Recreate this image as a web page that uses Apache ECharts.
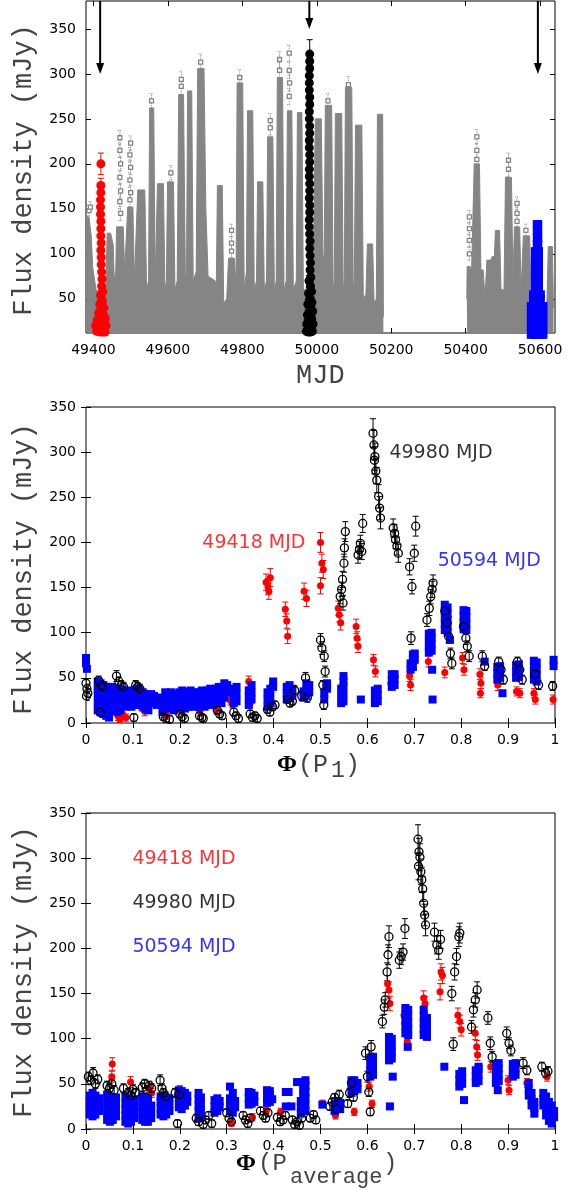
<!DOCTYPE html>
<html lang="en">
<head>
<meta charset="utf-8" />
<title>Flux density vs MJD and orbital phase</title>
<script src="https://cdn.jsdelivr.net/npm/echarts@6/dist/echarts.min.js"></script>
<style>
  html, body { margin: 0; padding: 0; background: #fff; }
  #chart { width: 585px; height: 1188px; }
</style>
</head>
<body>
<div id="chart"></div>
<script>
// ---------- tick values ----------
var mjdTicks = [49400, 49600, 49800, 50000, 50200, 50400, 50600];
var fluxTicksTop = [50, 100, 150, 200, 250, 300, 350];
var phaseTicks = [0, 0.1, 0.2, 0.3, 0.4, 0.5, 0.6, 0.7, 0.8, 0.9, 1];
var fluxTicks = [0, 50, 100, 150, 200, 250, 300, 350];

// ---------- top panel: full light curve (MJD, flux) ----------
// upper envelope of the dense grey cloud, two observing runs
var grayEnvA = [[49381,141],[49388,141],[49394,120],[49398,85],[49407,60],[49420,55],[49433,60],[49437,123],[49446,123],[49453,110],[49456,70],[49460,80],[49462,130],[49480,130],[49484,80],[49489,80],[49492,152],[49506,152],[49510,70],[49515,70],[49519,171],[49538,171],[49543,60],[49548,70],[49551,262],[49562,262],[49566,70],[49569,70],[49572,178],[49588,178],[49592,60],[49596,70],[49599,180],[49615,180],[49619,60],[49625,70],[49629,277],[49642,277],[49647,70],[49650,80],[49653,281],[49664,281],[49668,70],[49676,80],[49680,306],[49697,306],[49702,150],[49708,75],[49727,70],[49730,60],[49733,176],[49746,176],[49750,45],[49758,50],[49763,95],[49779,95],[49783,60],[49786,290],[49801,290],[49805,60],[49811,80],[49814,259],[49828,259],[49832,60],[49838,70],[49841,180],[49855,180],[49859,60],[49865,70],[49868,230],[49882,230],[49886,60],[49891,70],[49894,296],[49908,296],[49912,60],[49918,70],[49921,259],[49933,259],[49937,60],[49945,70],[49948,257],[49960,257],[49964,60],[49990,60],[49996,250],[50012,250],[50017,90],[50020,100],[50023,265],[50040,265],[50044,60],[50047,70],[50050,256],[50067,256],[50071,60],[50074,70],[50077,285],[50094,285],[50098,60],[50101,70],[50104,243],[50121,243],[50125,50],[50132,55],[50136,111],[50150,111],[50154,45],[50160,50],[50163,255],[50177,255],[50179,30]];
var grayEnvB = [[50403,50],[50404,86],[50412,86],[50416,82],[50420,82],[50423,200],[50437,200],[50441,82],[50447,82],[50452,50],[50457,93],[50468,93],[50471,97],[50477,97],[50480,126],[50491,126],[50495,60],[50503,60],[50507,185],[50523,185],[50527,70],[50531,130],[50545,130],[50549,60],[50553,60],[50555,120],[50572,120],[50576,40],[50618,40],[50622,108],[50633,108],[50636,40]];
// sparse grey points above the dense part [mjd, flux, err]
var graySparse = [[49388,148,6],[49392,152,6],[49471,229,8],[49471,215,8],[49473,200,8],[49471,185,8],[49473,170,8],[49471,158,8],[49473,145,8],[49500,223,8],[49498,210,8],[49500,196,8],[49498,182,8],[49500,168,8],[49498,160,8],[49556,270,8],[49608,190,8],[49636,294,9],[49636,286,9],[49688,313,9],[49771,126,7],[49771,112,7],[49771,103,7],[49793,296,9],[49875,248,8],[49875,240,8],[49900,316,9],[49900,304,9],[49926,323,9],[49926,304,9],[49927,290,9],[49926,275,9],[50030,270,8],[50085,288,9],[50410,141,7],[50410,128,7],[50410,115,7],[50410,100,7],[50430,230,8],[50430,215,8],[50430,205,8],[50515,204,8],[50515,194,8],[50538,156,7],[50538,145,7],[50538,136,7],[50562,126,7]];
var redTop = [[49420,200,12],[49420,176,8],[49420,168,8],[49419,160,8],[49419,152,8],[49419,144,7],[49420,136,7],[49420,128,7],[49420,120,7],[49421,112,7],[49420,104,7],[49421,96,6],[49421,88,6],[49422,80,6],[49423,72,6],[49422,64,6],[49425,58,5],[49419,54,5],[49424,48,5],[49417,44,5],[49428,40,5],[49421,38,5],[49414,34,5],[49426,32,5],[49432,28,5],[49410,26,5],[49419,26,5],[49406,20,5],[49413,18,5],[49421,18,5],[49428,20,5],[49434,20,5],[49409,14,5],[49417,13,5],[49425,13,5],[49431,13,5]];
var blackTop = [[49981,322,16],[49981,314,10],[49981,306,10],[49980,298,10],[49980,290,10],[49980,282,9],[49981,274,9],[49981,266,9],[49980,258,9],[49980,250,9],[49981,242,9],[49981,234,8],[49980,226,8],[49980,218,8],[49981,210,8],[49981,202,8],[49980,194,8],[49980,186,8],[49981,178,8],[49981,170,8],[49980,162,7],[49981,154,7],[49981,146,7],[49980,138,7],[49980,130,7],[49981,122,7],[49982,114,7],[49981,106,7],[49982,98,6],[49983,90,6],[49982,82,6],[49984,74,6],[49979,70,6],[49983,64,6],[49986,58,6],[49978,56,6],[49981,50,6],[49987,46,5],[49976,44,5],[49983,40,5],[49989,36,5],[49975,32,5],[49980,30,5],[49986,28,5],[49973,22,5],[49978,20,5],[49984,20,5],[49990,22,5],[49972,14,5],[49977,13,5],[49983,13,5],[49988,14,5]];
var blueTop = [[50591,133],[50595,133],[50591,125],[50595,125],[50591,117],[50595,117],[50591,111],[50595,111],[50586,103],[50592,103],[50597,103],[50586,95],[50592,95],[50597,95],[50586,87],[50592,87],[50597,87],[50586,79],[50592,79],[50597,79],[50586,71],[50592,71],[50597,71],[50586,63],[50592,63],[50597,63],[50581,55],[50588,55],[50595,55],[50602,55],[50581,50],[50588,50],[50595,50],[50602,50],[50575,42],[50582,42],[50589,42],[50596,42],[50603,42],[50609,42],[50575,34],[50582,34],[50589,34],[50596,34],[50603,34],[50609,34],[50575,26],[50582,26],[50589,26],[50596,26],[50603,26],[50609,26],[50575,18],[50582,18],[50589,18],[50596,18],[50603,18],[50609,18],[50575,10],[50582,10],[50589,10],[50596,10],[50603,10],[50609,10]];
// arrows marking the three cycles [mjd, tip flux]
var arrows = [[49418, 300], [49980, 350], [50594, 300]];

// ---------- middle panel: folded with P1 ----------
var redP1 = [[0.024,37,5],[0.027,30,5],[0.03,22,5],[0.033,18,5],[0.064,15,5],[0.068,8,5],[0.072,4,4],[0.078,10,5],[0.085,6,4],[0.12,18,5],[0.125,13,5],[0.165,11,5],[0.172,8,4],[0.2,15,5],[0.243,13,5],[0.278,15,5],[0.305,33,6],[0.308,25,5],[0.312,22,5],[0.347,46,6],[0.35,34,6],[0.35,22,5],[0.384,156,9],[0.388,151,9],[0.39,146,9],[0.393,161,10],[0.425,126,8],[0.428,113,8],[0.43,96,8],[0.465,146,9],[0.47,138,9],[0.5,200,11],[0.503,177,10],[0.506,170,10],[0.5,152,9],[0.538,127,8],[0.54,120,8],[0.543,111,8],[0.576,107,8],[0.578,94,7],[0.58,85,7],[0.613,70,6],[0.617,57,6],[0.65,44,6],[0.69,52,6],[0.692,42,6],[0.73,68,6],[0.765,56,6],[0.803,72,6],[0.806,59,6],[0.84,54,6],[0.842,44,6],[0.841,33,5],[0.878,42,6],[0.918,35,5],[0.925,33,5],[0.955,33,5],[0.958,26,5],[0.996,26,5]];
var blackP1 = [[0,44,5],[0.002,38,5],[0.004,33,5],[0.001,30,5],[0.027,47,5],[0.032,42,5],[0.036,40,5],[0.03,12,4],[0.065,52,6],[0.07,46,5],[0.075,42,5],[0.08,40,5],[0.102,6,4],[0.106,42,5],[0.11,40,5],[0.115,38,5],[0.165,7,4],[0.17,5,4],[0.178,4,4],[0.2,10,4],[0.205,7,4],[0.21,5,4],[0.242,8,4],[0.247,6,4],[0.25,5,4],[0.28,14,4],[0.285,10,4],[0.29,8,4],[0.315,12,4],[0.32,8,4],[0.325,5,4],[0.35,10,4],[0.355,6,4],[0.36,8,4],[0.365,5,4],[0.387,15,4],[0.392,12,4],[0.398,18,4],[0.403,20,4],[0.43,26,4],[0.435,22,4],[0.44,24,4],[0.445,36,5],[0.46,30,5],[0.468,50,6],[0.472,28,5],[0.5,92,7],[0.503,83,7],[0.508,74,6],[0.51,57,6],[0.505,42,5],[0.507,20,5],[0.542,140,8],[0.545,148,8],[0.547,159,9],[0.55,177,10],[0.551,194,10],[0.553,212,11],[0.548,133,8],[0.58,186,9],[0.583,192,9],[0.585,199,9],[0.59,221,10],[0.588,190,9],[0.612,321,16],[0.614,308,16],[0.616,295,15],[0.615,291,15],[0.618,279,14],[0.62,269,14],[0.624,251,13],[0.626,238,13],[0.628,227,12],[0.655,216,10],[0.658,210,10],[0.66,203,10],[0.663,196,10],[0.666,188,10],[0.69,173,9],[0.693,94,7],[0.695,151,8],[0.7,188,9],[0.703,218,11],[0.727,114,7],[0.732,127,8],[0.735,140,8],[0.738,148,9],[0.74,155,9],[0.765,124,8],[0.77,111,7],[0.773,96,7],[0.777,77,6],[0.78,66,6],[0.805,107,7],[0.81,94,7],[0.813,85,6],[0.817,74,6],[0.845,74,6],[0.85,63,5],[0.88,68,5],[0.885,59,5],[0.89,48,5],[0.92,68,5],[0.925,59,5],[0.93,48,5],[0.957,54,5],[0.965,42,5],[0.995,41,5]];
// blue squares, grouped as [phase, [flux values at that phase]]
var blueP1Cols = [[0,[72,66]],[0.002,[60]],[0.025,[46,38,30,22,14]],[0.031,[44,36,28,20,12]],[0.037,[42,34,26,18,10]],[0.043,[40,32,24,16,8]],[0.049,[38,30,22,14,6]],[0.055,[40,32,24,16]],[0.061,[38,30,22,14]],[0.067,[36,28,20,12]],[0.073,[38,30,22,14]],[0.079,[36,28,20]],[0.085,[34,26,18]],[0.091,[36,28,20]],[0.097,[34,26,18]],[0.103,[36,28,20]],[0.109,[38,30,22]],[0.115,[36,28,20]],[0.121,[34,26,18]],[0.127,[32,24,16]],[0.133,[30,22,14]],[0.139,[32,24]],[0.145,[30,22]],[0.151,[28,20]],[0.163,[28,20,12]],[0.169,[34,26,18]],[0.175,[32,24,16]],[0.181,[34,26,18]],[0.187,[30,22,14]],[0.193,[32,24,16]],[0.199,[34,26,18]],[0.205,[36,28,20]],[0.211,[32,24,16]],[0.217,[34,26,18]],[0.223,[36,28,20]],[0.229,[34,26,18]],[0.235,[32,24]],[0.241,[34,26,18]],[0.247,[36,28,20]],[0.253,[34,26,18]],[0.259,[36,28,20]],[0.265,[38,30,22]],[0.271,[36,28,20]],[0.277,[38,30,22]],[0.283,[40,32,24]],[0.289,[38,30,22]],[0.295,[44,36,28]],[0.301,[42,34]],[0.315,[22,30,38]],[0.321,[24,32,40]],[0.347,[20,28,36]],[0.353,[26,34,42]],[0.387,[18,26,34]],[0.393,[22,30,38]],[0.399,[40,46]],[0.428,[26,33,40]],[0.434,[28,35,42]],[0.44,[30,38]],[0.464,[28,35]],[0.47,[30,37,44]],[0.476,[34,42]],[0.508,[26,33]],[0.514,[38,44]],[0.544,[22,30,38]],[0.549,[24,32,40,46,52]],[0.586,[26]],[0.616,[22,29,36]],[0.622,[24,31,38]],[0.652,[40,47,54]],[0.658,[42,49,54]],[0.692,[59,66]],[0.697,[62,69,76]],[0.701,[70,77]],[0.731,[78,85,92,99]],[0.737,[80,87,94,100]],[0.738,[59]],[0.739,[26]],[0.765,[103,110,117,124,131]],[0.771,[100,107,114,121,128]],[0.776,[92]],[0.805,[104,111,118,125]],[0.811,[103,110,117,124]],[0.85,[68]],[0.877,[48,55,62]],[0.883,[50,57,63]],[0.888,[33]],[0.917,[50,57,64]],[0.923,[51,58,65]],[0.955,[48,55,62,69]],[0.961,[46,53,60,67]],[0.997,[63,70]]];

// ---------- bottom panel: folded with P average ----------
var redPav = [[0.056,72,7],[0.055,58,6],[0.095,52,6],[0.135,45,5],[0.14,40,5],[0.2,43,5],[0.24,25,4],[0.277,20,4],[0.31,7,4],[0.355,13,4],[0.385,21,4],[0.415,19,4],[0.504,28,4],[0.532,15,4],[0.572,19,4],[0.604,47,5],[0.61,28,4],[0.643,161,9],[0.646,154,9],[0.648,139,8],[0.678,126,8],[0.682,111,7],[0.685,97,7],[0.72,145,8],[0.723,139,8],[0.757,174,9],[0.76,170,9],[0.755,152,9],[0.793,126,8],[0.797,119,7],[0.8,110,7],[0.83,106,7],[0.833,91,7],[0.835,82,6],[0.863,69,6],[0.9,54,5],[0.902,43,5],[0.94,51,5],[0.983,58,5]];
var blackPav = [[0.005,58,5],[0.01,54,5],[0.015,62,6],[0.02,50,5],[0.025,55,5],[0.045,48,5],[0.05,45,5],[0.055,50,5],[0.06,43,5],[0.08,45,5],[0.09,40,5],[0.095,37,5],[0.1,44,5],[0.105,40,5],[0.12,46,5],[0.125,50,5],[0.13,43,5],[0.135,48,5],[0.14,45,5],[0.158,54,6],[0.162,45,5],[0.165,40,5],[0.17,36,5],[0.19,40,5],[0.195,6,4],[0.198,38,5],[0.235,12,4],[0.24,8,4],[0.25,5,4],[0.255,10,4],[0.262,15,4],[0.268,6,4],[0.3,18,4],[0.305,12,4],[0.31,8,4],[0.335,15,4],[0.34,10,4],[0.345,6,4],[0.35,12,4],[0.372,20,4],[0.378,15,4],[0.383,12,4],[0.388,18,4],[0.408,13,4],[0.414,8,4],[0.42,10,4],[0.425,15,4],[0.44,10,4],[0.445,5,4],[0.45,8,4],[0.455,4,4],[0.46,12,4],[0.478,12,4],[0.485,16,4],[0.49,10,4],[0.52,25,4],[0.525,30,4],[0.53,35,4],[0.535,22,4],[0.54,38,5],[0.558,28,4],[0.562,40,5],[0.566,51,5],[0.57,35,4],[0.596,84,7],[0.6,58,6],[0.603,41,5],[0.606,19,4],[0.608,91,7],[0.632,119,7],[0.636,135,8],[0.638,143,8],[0.642,174,10],[0.644,193,11],[0.646,213,12],[0.668,187,9],[0.672,191,9],[0.676,196,9],[0.68,222,11],[0.708,321,16],[0.71,307,15],[0.712,301,15],[0.709,291,15],[0.714,285,14],[0.716,276,14],[0.718,266,14],[0.72,250,13],[0.722,237,12],[0.724,226,12],[0.743,218,10],[0.748,204,10],[0.752,198,10],[0.756,210,10],[0.78,150,8],[0.783,94,7],[0.786,174,9],[0.79,191,9],[0.795,213,11],[0.797,217,11],[0.822,113,7],[0.826,132,8],[0.83,143,8],[0.834,154,9],[0.857,123,7],[0.862,95,7],[0.866,80,6],[0.897,106,7],[0.902,95,6],[0.906,87,6],[0.932,73,6],[0.94,65,5],[0.972,69,5],[0.98,62,5],[0.985,64,5]];
var bluePavCols = [[0.008,[16,23,30,37]],[0.014,[14,21,28,35,40]],[0.02,[16,23,30,37]],[0.028,[20,27,34]],[0.045,[10,17,24,31,38]],[0.051,[8,15,22,29,36]],[0.057,[10,17,24,31]],[0.064,[14,21,28,35]],[0.084,[8,15,22,29,36]],[0.09,[6,13,20,27,34]],[0.096,[8,15,22,29]],[0.103,[12,19,26,33]],[0.12,[10,17,24,31,36]],[0.126,[8,15,22,29]],[0.132,[8,15,22,29,34]],[0.139,[12,19,26]],[0.159,[16,23,30,36]],[0.165,[14,21,28,35]],[0.171,[16,23,30]],[0.178,[20,27,34]],[0.198,[24,31,38,43]],[0.204,[22,29,36,42]],[0.211,[26,33,40]],[0.216,[30,37]],[0.24,[12,19,26,33,40]],[0.245,[14,21,28,35]],[0.274,[18,25,32]],[0.28,[20,27,34]],[0.285,[24,31]],[0.307,[20,27,34,47]],[0.313,[18,25,32,40]],[0.318,[24,31]],[0.347,[27,34,41]],[0.353,[28,35,40]],[0.359,[30,37]],[0.386,[29,36,43]],[0.392,[30,37,42]],[0.397,[33]],[0.426,[25,41]],[0.432,[41]],[0.438,[25]],[0.45,[52]],[0.458,[17,24,31]],[0.463,[38,45,52]],[0.468,[20,27,34,41,48,54]],[0.504,[27]],[0.53,[20,27]],[0.536,[24,31]],[0.542,[22,29]],[0.566,[40,47,54]],[0.572,[42,49,54]],[0.579,[44,51]],[0.606,[58,65,72,79]],[0.612,[60,67,74,80]],[0.646,[76,83,90,97,102]],[0.652,[78,85,92,100]],[0.654,[58]],[0.648,[25]],[0.681,[106,113,120,127,134]],[0.687,[104,111,118,125,132]],[0.686,[91]],[0.72,[104,111,118,125,132]],[0.727,[102,109,116,123]],[0.764,[69]],[0.796,[47,54,61]],[0.802,[50,57,64]],[0.806,[32]],[0.831,[51,58,65]],[0.837,[53,60,67,69]],[0.874,[51,58,65,72]],[0.88,[53,60,67,73]],[0.878,[43]],[0.91,[58,65,72]],[0.916,[60,67,73]],[0.944,[51,44,37]],[0.95,[40,33,26]],[0.956,[30,23,17]],[0.975,[40,33,26]],[0.981,[36,29,22,15]],[0.987,[30,23,16,9]],[0.993,[26,19,12,6]],[0.998,[20,13]]];

// legend-style labels [x, y, text]
var labelsP1 = [[0.248, 199, '49418 MJD'], [0.647, 299, '49980 MJD'], [0.75, 179, '50594 MJD']];
var labelsPav = [[0.099, 299, '49418 MJD'], [0.099, 250, '49980 MJD'], [0.099, 201, '50594 MJD']];
var labelColors = ['#ff0000', '#000000', '#0000ff'];

// ---------- helpers ----------
var NUM_FONT = 'DejaVu Sans';
var TITLE_COLOR = '#444';

function flatten(cols) {
  var out = [];
  cols.forEach(function (c) { c[1].forEach(function (v) { out.push([c[0], v]); }); });
  return out;
}

function axis(grid, min, max, ticks, pos, labels, fmt) {
  var a = {
    type: 'value', gridIndex: grid, min: min, max: max, position: pos,
    axisLine: { show: false },
    splitLine: { show: false },
    axisTick: { show: true, inside: true, length: 5, customValues: ticks, lineStyle: { color: '#000', width: 1 } },
    axisLabel: { show: labels, customValues: ticks, color: '#000', fontFamily: NUM_FONT, fontSize: 14, margin: 10 }
  };
  if (fmt) a.axisLabel.formatter = fmt;
  return a;
}

function errRender(cap, color, dash) {
  return function (params, api) {
    var x = api.value(0), y = api.value(1), e = api.value(2);
    var lo = api.coord([x, y - e]), hi = api.coord([x, y + e]);
    var st = { stroke: color, lineWidth: 1, lineDash: dash || null };
    return { type: 'group', children: [
      { type: 'line', shape: { x1: lo[0], y1: lo[1], x2: hi[0], y2: hi[1] }, style: st },
      { type: 'line', shape: { x1: lo[0] - cap, y1: lo[1], x2: lo[0] + cap, y2: lo[1] }, style: st },
      { type: 'line', shape: { x1: hi[0] - cap, y1: hi[1], x2: hi[0] + cap, y2: hi[1] }, style: st }
    ]};
  };
}

function errSeries(grid, data, color, cap, dash) {
  return { type: 'custom', xAxisIndex: grid * 2, yAxisIndex: grid * 2, data: data,
    renderItem: errRender(cap, color, dash), silent: true, clip: true };
}

function pts(grid, data, symbol, size, fill, stroke, clip) {
  return { type: 'scatter', xAxisIndex: grid * 2, yAxisIndex: grid * 2, data: data,
    symbol: symbol, symbolSize: size, clip: clip !== false, silent: true,
    itemStyle: { color: fill, borderColor: stroke || fill, borderWidth: stroke ? 1.3 : 0, opacity: 1 } };
}

function labelSeries(grid, data) {
  return { type: 'scatter', xAxisIndex: grid * 2, yAxisIndex: grid * 2, symbolSize: 0, silent: true,
    data: data.map(function (d, i) {
      return { value: [d[0], d[1]], name: d[2],
        label: { show: true, position: 'right', distance: 0, formatter: d[2],
          color: labelColors[i], fontFamily: NUM_FONT, fontSize: 19 } };
    }) };
}

var grayColor = '#858585';

function grayArea(data) {
  return { type: 'line', xAxisIndex: 0, yAxisIndex: 0, data: data, showSymbol: false, silent: true,
    lineStyle: { color: grayColor, width: 1 }, areaStyle: { color: grayColor, opacity: 1, origin: 'start' }, z: 1 };
}

function title(x, y, text, font, rot, color) {
  return { type: 'text', x: x, y: y, rotation: rot || 0,
    style: { text: text, font: font, fill: color || TITLE_COLOR, textAlign: rot ? 'center' : 'left', textVerticalAlign: 'middle' } };
}

var chart = echarts.init(document.getElementById('chart'), null, { renderer: 'canvas' });

var gridBox = { show: true, borderColor: '#000', borderWidth: 1, backgroundColor: 'transparent', containLabel: false, outerBoundsMode: 'none' };
var MONO27 = '27px "Liberation Mono"';

var option = {
  animation: false,
  backgroundColor: '#fff',
  grid: [
    Object.assign({ left: 86, top: 1, width: 469, height: 332 }, gridBox),
    Object.assign({ left: 86, top: 407, width: 469, height: 316 }, gridBox),
    Object.assign({ left: 86, top: 813, width: 469, height: 316 }, gridBox)
  ],
  xAxis: [
    axis(0, 49380, 50640, mjdTicks, 'bottom', true, function (v) { return String(v); }),
    axis(0, 49380, 50640, mjdTicks, 'top', false),
    axis(1, 0, 1, phaseTicks, 'bottom', true),
    axis(1, 0, 1, phaseTicks, 'top', false),
    axis(2, 0, 1, phaseTicks, 'bottom', true),
    axis(2, 0, 1, phaseTicks, 'top', false)
  ],
  yAxis: [
    axis(0, 12, 381, fluxTicksTop, 'left', true),
    axis(0, 12, 381, fluxTicksTop, 'right', false),
    axis(1, 0, 350, fluxTicks, 'left', true),
    axis(1, 0, 350, fluxTicks, 'right', false),
    axis(2, 0, 350, fluxTicks, 'left', true),
    axis(2, 0, 350, fluxTicks, 'right', false)
  ],
  graphic: [
    title(24, 170, 'Flux density (mJy)', MONO27, Math.PI / 2),
    title(24, 569, 'Flux density (mJy)', MONO27, Math.PI / 2),
    title(24, 972, 'Flux density (mJy)', MONO27, Math.PI / 2),
    title(296, 376, 'MJD', MONO27),
    // Φ(P1)
    title(277, 765, 'Φ', 'bold 24px "Liberation Serif"', 0, '#000'),
    title(298, 765, '(P', '25px "Liberation Mono"'),
    title(331, 771, '1', '23px "Liberation Mono"'),
    title(345, 765, ')', '25px "Liberation Mono"'),
    // Φ(Paverage)
    title(236, 1164, 'Φ', 'bold 24px "Liberation Serif"', 0, '#000'),
    title(258, 1164, '(P', '24px "Liberation Mono"'),
    title(290, 1177, 'average', '22px "Liberation Mono"'),
    title(383, 1164, ')', '24px "Liberation Mono"')
  ],
  series: [
    // top panel
    grayArea(grayEnvA),
    grayArea(grayEnvB),
    errSeries(0, graySparse, grayColor, 2, [1, 1]),
    pts(0, graySparse, 'rect', 4, '#fff', grayColor),
    errSeries(0, redTop, '#ff0000', 3),
    pts(0, redTop, 'circle', 9, '#ff0000', null, false),
    errSeries(0, blackTop, '#000', 3),
    pts(0, blackTop, 'circle', 9, '#000', null, false),
    pts(0, blueTop, 'rect', 8, '#0000ff', null, false),
    {
      type: 'custom', xAxisIndex: 0, yAxisIndex: 0, data: arrows, silent: true, clip: false,
      renderItem: function (params, api) {
        var x = api.value(0), tipV = api.value(1);
        var top = api.coord([x, 381]), tip = api.coord([x, tipV]);
        return { type: 'group', children: [
          { type: 'line', shape: { x1: top[0], y1: top[1], x2: tip[0], y2: tip[1] - 8 }, style: { stroke: '#000', lineWidth: 2 } },
          { type: 'polygon', shape: { points: [[tip[0], tip[1]], [tip[0] - 4, tip[1] - 11], [tip[0] + 4, tip[1] - 11]] }, style: { fill: '#000' } }
        ]};
      }
    },
    // middle panel
    errSeries(1, redP1, '#ff0000', 3),
    pts(1, redP1, 'circle', 7, '#ff0000', null),
    pts(1, flatten(blueP1Cols), 'rect', 8, '#0000ff', null),
    errSeries(1, blackP1, '#000', 3),
    pts(1, blackP1, 'circle', 8, 'rgba(0,0,0,0)', '#000'),
    labelSeries(1, labelsP1),
    // bottom panel
    errSeries(2, redPav, '#ff0000', 3),
    pts(2, redPav, 'circle', 7, '#ff0000', null),
    pts(2, flatten(bluePavCols), 'rect', 8, '#0000ff', null),
    errSeries(2, blackPav, '#000', 3),
    pts(2, blackPav, 'circle', 8, 'rgba(0,0,0,0)', '#000'),
    labelSeries(2, labelsPav)
  ]
};

chart.setOption(option);
window.addEventListener('resize', function () { chart.resize(); });
</script>
</body>
</html>
